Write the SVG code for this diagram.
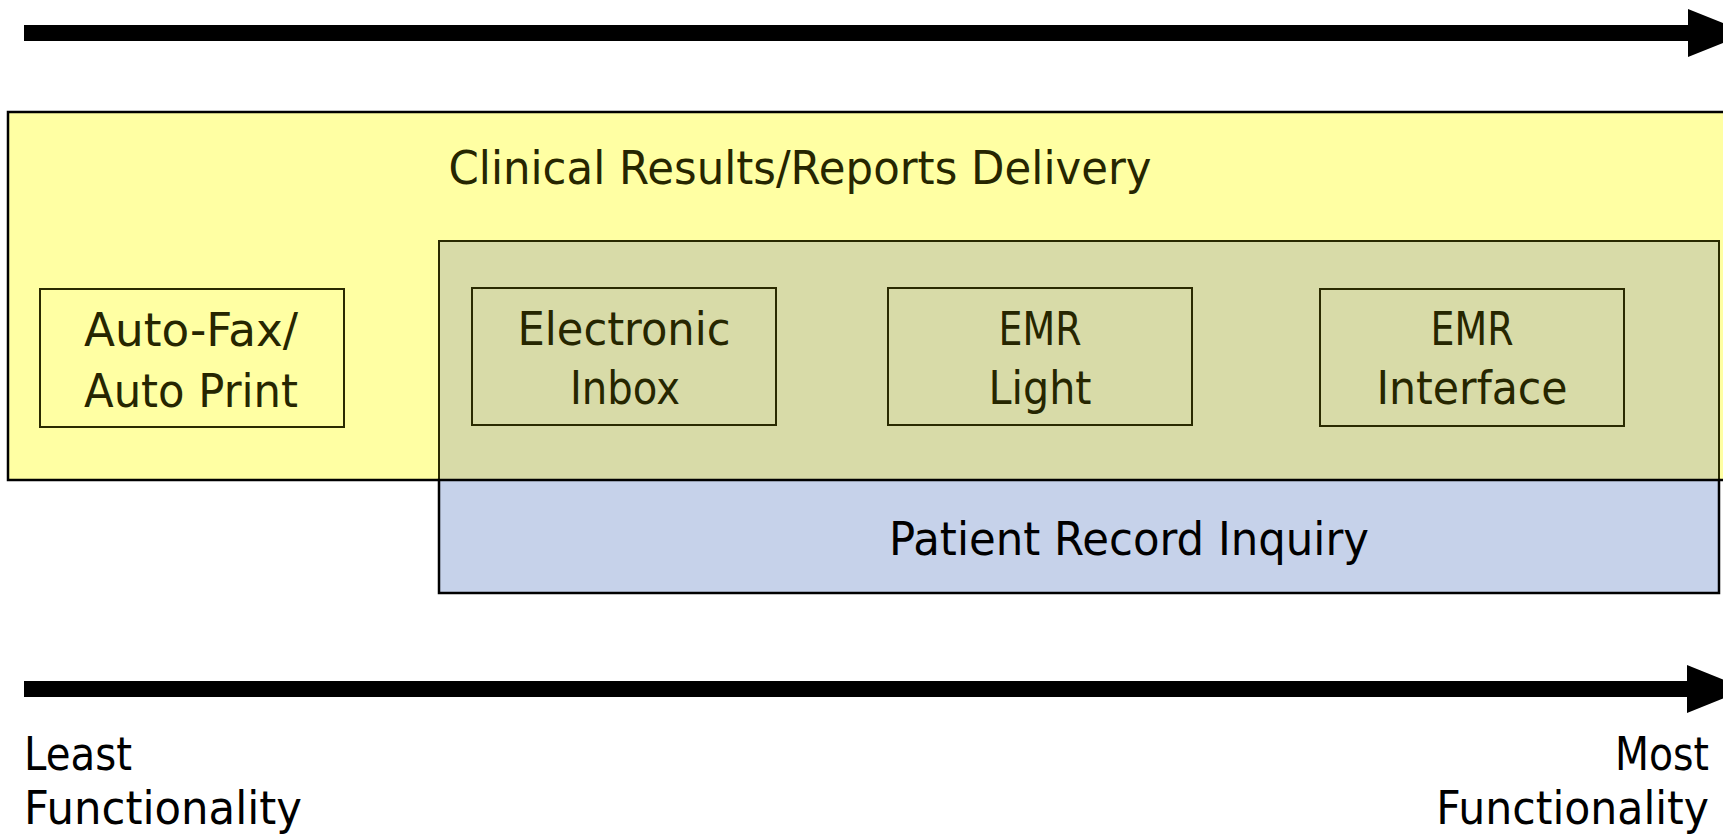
<svg xmlns="http://www.w3.org/2000/svg" width="1723" height="837" viewBox="0 0 1723 837">
  <style>
    .lbl { font-family: "DejaVu Sans", "Liberation Sans", sans-serif; font-size: 46px; }
    .inner { fill: #262600; text-anchor: middle; }
    .axis { fill: #000000; }
    .box { fill: none; stroke: #2a2a00; stroke-width: 2; }
    .shaft { stroke: #000000; stroke-width: 16; }
    .head { fill: #000000; }
  </style>

  <rect x="0" y="0" width="1723" height="837" fill="#ffffff"/>

  <!-- top axis arrow -->
  <g id="axis-top">
    <line class="shaft" x1="24" y1="33" x2="1700" y2="33"/>
    <polygon class="head" points="1688,9 1748,33 1688,57"/>
  </g>

  <!-- outer band: results delivery -->
  <g id="results-delivery">
    <rect x="8" y="112" width="1740" height="368" fill="#ffffa3" stroke="#000000" stroke-width="2.5"/>
    <text class="lbl inner" x="800" y="184" textLength="703" lengthAdjust="spacingAndGlyphs">Clinical Results/Reports Delivery</text>
  </g>

  <!-- overlap with record inquiry -->
  <g id="overlap">
    <rect x="439" y="241" width="1280" height="239" fill="#d8dba8" stroke="#2a2a00" stroke-width="2"/>
  </g>

  <!-- record inquiry band -->
  <g id="record-inquiry">
    <rect x="439" y="480" width="1280" height="113" fill="#c6d2ea" stroke="#000000" stroke-width="2.5"/>
    <text class="lbl" x="1129" y="555" text-anchor="middle" fill="#000000" textLength="480" lengthAdjust="spacingAndGlyphs">Patient Record Inquiry</text>
  </g>

  <g id="auto-fax">
    <rect class="box" x="40" y="289" width="304" height="138"/>
    <text class="lbl inner" x="191" y="346" textLength="214" lengthAdjust="spacingAndGlyphs">Auto-Fax/</text>
    <text class="lbl inner" x="191" y="407" textLength="214" lengthAdjust="spacingAndGlyphs">Auto Print</text>
  </g>

  <g id="electronic-inbox">
    <rect class="box" x="472" y="288" width="304" height="137"/>
    <text class="lbl inner" x="624" y="345" textLength="213" lengthAdjust="spacingAndGlyphs">Electronic</text>
    <text class="lbl inner" x="625" y="404" textLength="110" lengthAdjust="spacingAndGlyphs">Inbox</text>
  </g>

  <g id="emr-light">
    <rect class="box" x="888" y="288" width="304" height="137"/>
    <text class="lbl inner" x="1040" y="345" textLength="83" lengthAdjust="spacingAndGlyphs">EMR</text>
    <text class="lbl inner" x="1040" y="404" textLength="103" lengthAdjust="spacingAndGlyphs">Light</text>
  </g>

  <g id="emr-interface">
    <rect class="box" x="1320" y="289" width="304" height="137"/>
    <text class="lbl inner" x="1472" y="345" textLength="83" lengthAdjust="spacingAndGlyphs">EMR</text>
    <text class="lbl inner" x="1472" y="404" textLength="191" lengthAdjust="spacingAndGlyphs">Interface</text>
  </g>

  <!-- bottom axis arrow -->
  <g id="axis-bottom">
    <line class="shaft" x1="24" y1="689" x2="1700" y2="689"/>
    <polygon class="head" points="1687,665 1747,689 1687,713"/>
  </g>

  <g id="least-label">
    <text class="lbl axis" x="24" y="770" textLength="108" lengthAdjust="spacingAndGlyphs">Least</text>
    <text class="lbl axis" x="24" y="824" textLength="278" lengthAdjust="spacingAndGlyphs">Functionality</text>
  </g>

  <g id="most-label">
    <text class="lbl axis" x="1709" y="770" text-anchor="end" textLength="94" lengthAdjust="spacingAndGlyphs">Most</text>
    <!-- condensed horizontally so the line ends at the right margin -->
    <text class="lbl axis" transform="translate(1709,824) scale(0.926,1)" x="0" y="0" text-anchor="end">Functionality</text>
  </g>
</svg>
